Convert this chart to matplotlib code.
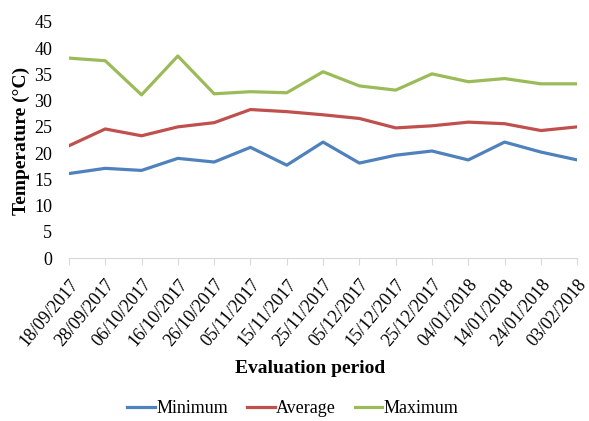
import matplotlib.pyplot as plt

# ----------------------------------------------------
# Data
# ----------------------------------------------------
dates = ["18/09/2017", "28/09/2017", "06/10/2017", "16/10/2017", "26/10/2017",
         "05/11/2017", "15/11/2017", "25/11/2017", "05/12/2017", "15/12/2017",
         "25/12/2017", "04/01/2018", "14/01/2018", "24/01/2018", "03/02/2018"]

minimum = [16.1, 17.1, 16.7, 19.0, 18.3, 21.1, 17.7, 22.1, 18.1, 19.6,
           20.4, 18.7, 22.1, 20.2, 18.7]
average = [21.4, 24.6, 23.3, 25.0, 25.8, 28.3, 27.9, 27.3, 26.6, 24.8,
           25.2, 25.9, 25.6, 24.3, 25.0]
maximum = [38.1, 37.6, 31.1, 38.5, 31.3, 31.7, 31.5, 35.5, 32.8, 32.0,
           35.1, 33.6, 34.2, 33.2, 33.2]

plt.rcParams['font.family'] = ['Liberation Serif', 'DejaVu Serif']

# ----------------------------------------------------
# Plot
# ----------------------------------------------------
fig = plt.figure(figsize=(5.89, 4.21), dpi=100)
ax = fig.add_axes([0.117, 0.387, 0.863, 0.561])

x = range(len(dates))
ax.plot(x, minimum, color="#4F81BD", linewidth=2.3, label="Minimum")
ax.plot(x, average, color="#C0504D", linewidth=2.3, label="Average")
ax.plot(x, maximum, color="#9BBB59", linewidth=2.3, label="Maximum")

ax.set_xlim(0, len(dates) - 1)
ax.set_ylim(0, 45)
ax.set_yticks(range(0, 46, 5))

ax.set_xticks(list(x))
ax.set_xticklabels(dates, rotation=50, ha="right", rotation_mode="anchor",
                   fontsize=13)
ax.tick_params(axis="y", length=0, labelsize=13, pad=12)
ax.tick_params(axis="x", length=5, color="#D9D9D9", pad=8)

for side in ["top", "right", "left"]:
    ax.spines[side].set_visible(False)
ax.spines["bottom"].set_color("#D9D9D9")

ax.set_ylabel("Temperature (°C)", fontsize=14, fontweight="bold")
ax.yaxis.set_label_coords(-0.077, 0.496)
ax.set_xlabel("Evaluation period", fontsize=14, fontweight="bold")
ax.xaxis.set_label_coords(0.474, -0.43)

fig.legend(loc="center", bbox_to_anchor=(0.497, 0.03), ncol=3,
           frameon=False, fontsize=13, handlelength=1.55, handletextpad=0.05,
           columnspacing=1.05)

fig.savefig("out.png", dpi=100)
